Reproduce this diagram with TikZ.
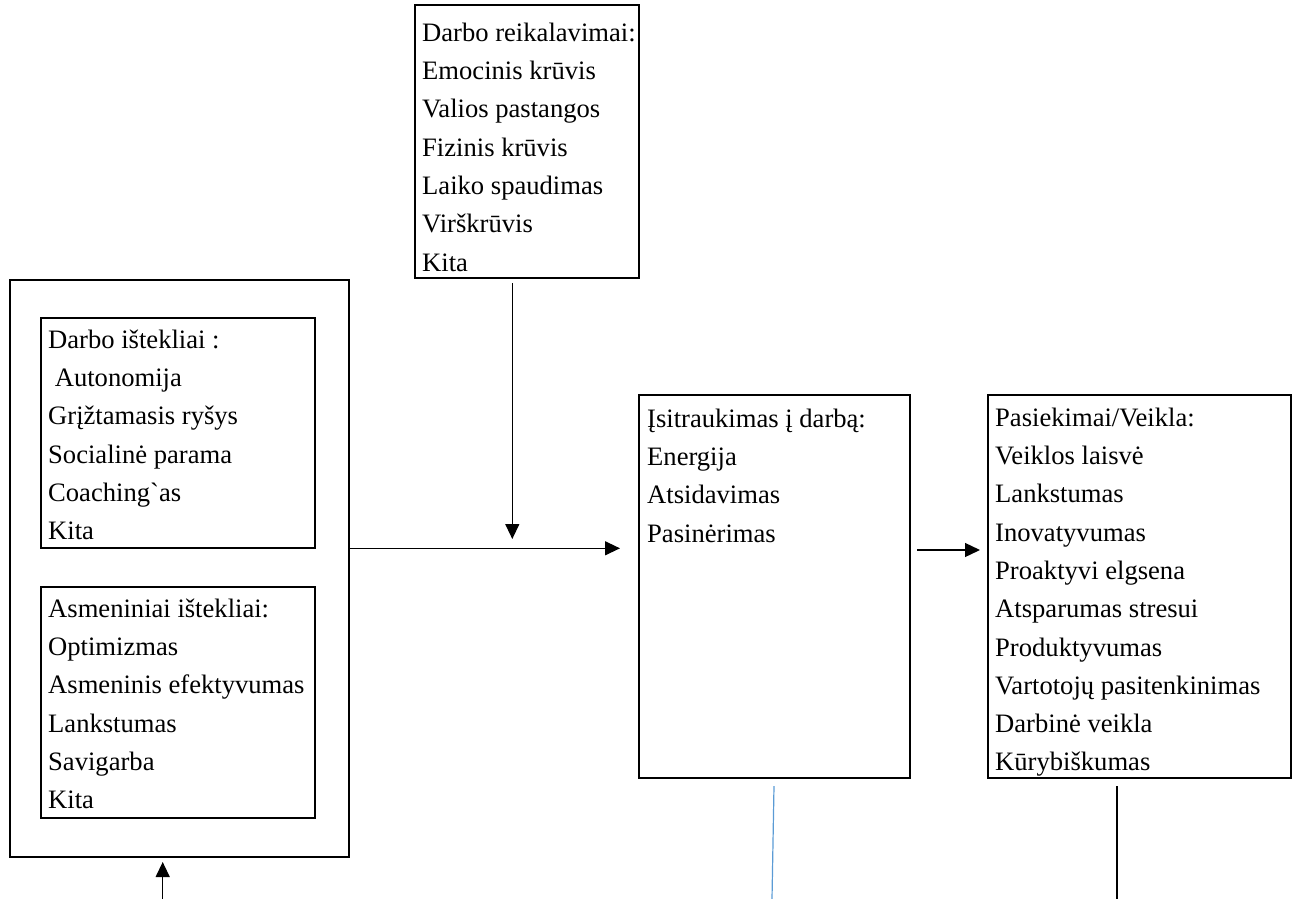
\documentclass[tikz,border=0pt]{standalone}
\usepackage{fontspec}
% plain family: no TeX ligature mapping, so the grave accent stays a grave
\newfontfamily\tnr{Liberation Serif}
\usetikzlibrary{arrows.meta,calc}
\definecolor{linkblue}{RGB}{91,155,213}
\begin{document}
\begin{tikzpicture}[x=1bp,y=-1bp,
  box/.style={draw, line width=1.8bp, inner sep=0pt, outer sep=0pt, anchor=north west},
  list/.style={anchor=north west, inner sep=0pt, align=left,
    font=\tnr\fontsize{26.6bp}{38.3bp}\selectfont},
  link/.style={line width=1.3bp},
  arr/.style={link, -{Triangle[length=15bp,width=14bp]}}]
\useasboundingbox (0,0) rectangle (1296,899);

% frames
\node[box, minimum width=224bp, minimum height=273bp] (dem)   at (415,5)   {};
\node[box, minimum width=339bp, minimum height=577bp] (outer) at (10,280)  {};
\node[box, minimum width=274bp, minimum height=230bp] (res1)  at (41,318)  {};
\node[box, minimum width=274bp, minimum height=231bp] (res2)  at (41,587)  {};
\node[box, minimum width=271bp, minimum height=383bp] (eng)   at (639,395) {};
\node[box, minimum width=303bp, minimum height=383bp] (perf)  at (988,395) {};

% lists
\node[list] (demtxt) at ($(dem.north west)+(7,9.2)$) {\strut Darbo reikalavimai:\\
  Emocinis krūvis\\ Valios pastangos\\ Fizinis krūvis\\ Laiko spaudimas\\
  Virškrūvis\\ Kita};
\node[list] (res1txt) at ($(res1.north west)+(7,3.2)$) {\strut Darbo ištekliai :\\
  \ Autonomija\\ Grįžtamasis ryšys\\ Socialinė parama\\ Coaching`as\\ Kita};
\node[list] (res2txt) at ($(res2.north west)+(7,3.2)$) {\strut Asmeniniai ištekliai:\\
  Optimizmas\\ Asmeninis efektyvumas\\ Lankstumas\\ Savigarba\\ Kita};
\node[list] (engtxt) at ($(eng.north west)+(8,5.2)$) {\strut Įsitraukimas į darbą:\\
  Energija\\ Atsidavimas\\ Pasinėrimas};
\node[list] (perftxt) at ($(perf.north west)+(7,4.2)$) {\strut Pasiekimai/Veikla:\\
  Veiklos laisvė\\ Lankstumas\\ Inovatyvumas\\ Proaktyvi elgsena\\
  Atsparumas stresui\\ Produktyvumas\\ Vartotojų pasitenkinimas\\
  Darbinė veikla\\ Kūrybiškumas};

% connectors
\coordinate (dtip) at ($(dem.south)+(-14.7,261)$);
\draw[arr] ($(dem.south)+(-14.7,5)$) -- (dtip);
\draw[arr] (outer.east |- 0,548.3) -- ($(eng.west |- 0,548.3)+(-19,0)$);
\draw[arr] ($(eng.east |- 0,550)+(7,0)$) -- ($(perf.west |- 0,550)+(-8,0)$);
\coordinate (ubase) at (162.7,899);
\draw[arr] (ubase) -- ($(outer.south -| ubase)+(0,5)$);
\coordinate (bluebase) at (772,899);
\draw[link, linkblue, line width=1.2bp] ($(eng.south)+(-0.5,8)$) -- (bluebase);
\coordinate (blackbase) at (1117,899);
\draw[link] ($(perf.south -| blackbase)+(0,8)$) -- (blackbase);
\end{tikzpicture}
\end{document}
